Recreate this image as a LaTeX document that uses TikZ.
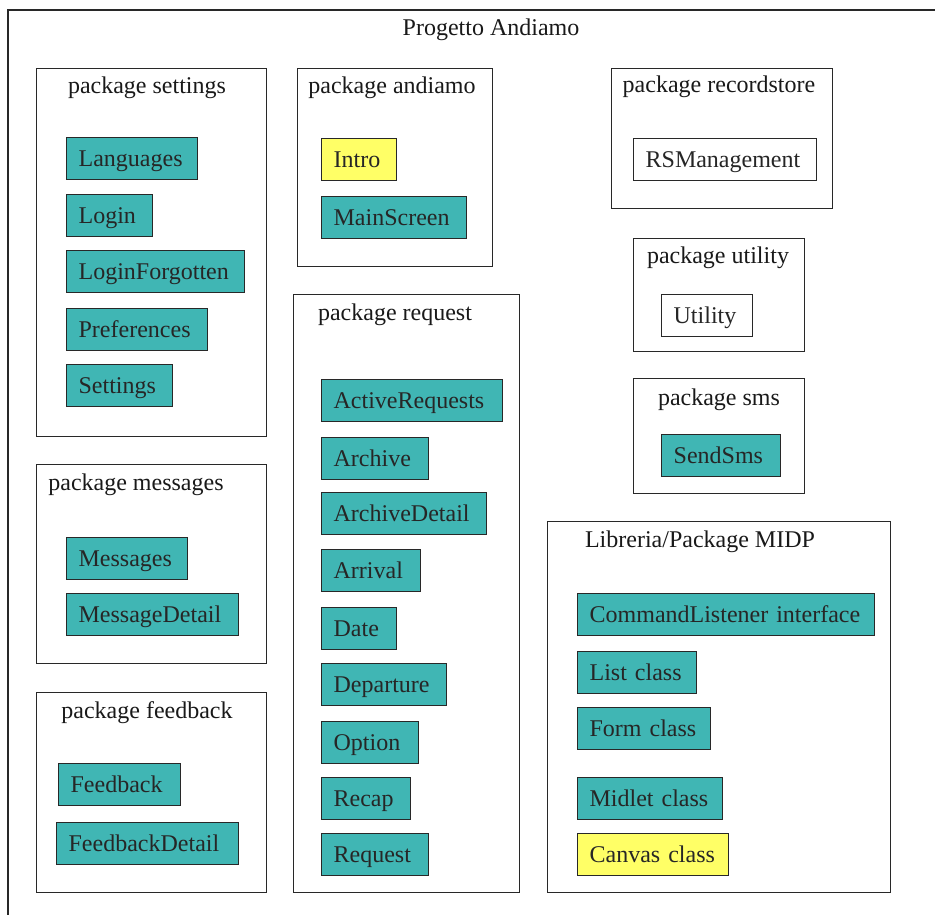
\documentclass[tikz,border=0pt]{standalone}
\usepackage{fontspec}
\setmainfont{Liberation Serif}
\usepackage{xcolor}
\usepackage{tikz}
\definecolor{clsteal}{RGB}{64,182,180}
\definecolor{clsyellow}{RGB}{255,255,102}
\definecolor{frameline}{RGB}{40,40,40}

\begin{document}
\begin{tikzpicture}[x=1pt,y=-1pt,
	font=\fontsize{24}{28}\selectfont,
	pkgbox/.style={draw=frameline,line width=1.4pt,anchor=north west,inner sep=0pt},
	pkgtitle/.style={inner sep=0pt,text=black!90},
	cls/.style={draw=frameline,line width=1.3pt,fill=clsteal,anchor=north west,
		minimum height=42pt,execute at begin node={\rule[-6pt]{0pt}{27pt}},
		inner xsep=12pt,inner ysep=0pt,align=left,text=black!85},
	clsy/.style={cls,fill=clsyellow},
	clsw/.style={cls,fill=white}]
	\useasboundingbox (0,0) rectangle (935,915);
	\fill[white] (0,0) rectangle (935,915);
	
	% cornice esterna
	\coordinate (outerbl) at (8,915);
	\coordinate (outertl) at (8,10);
	\coordinate (outertr) at (935,10);
	\draw[frameline,line width=1.6pt] (outerbl) -- (outertl) -- (outertr);
	\node[pkgtitle] (progetto) at (491,30) {Progetto Andiamo};
	
	% package
	\begin{scope}[every node/.append style={pkgbox}]
		\node[minimum width=230,minimum height=368] (settings) at (36,68) {};
		\node[minimum width=195,minimum height=198] (andiamo) at (297,68) {};
		\node[minimum width=226,minimum height=598] (request) at (293,294) {};
		\node[minimum width=230,minimum height=199] (messages) at (36,464) {};
		\node[minimum width=230,minimum height=200] (feedback) at (36,692) {};
		\node[minimum width=221,minimum height=140] (recordstore) at (611,68) {};
		\node[minimum width=171,minimum height=113] (utility) at (633,238) {};
		\node[minimum width=171,minimum height=115] (sms) at (633,378) {};
		\node[minimum width=343,minimum height=371] (midp) at (547,521) {};
	\end{scope}
	
	\node[pkgtitle] (settingsT) at (147,88) {package settings};
	\node[pkgtitle] (andiamoT) at (392,88) {package andiamo};
	\node[pkgtitle] (requestT) at (395,315) {package request};
	\node[pkgtitle] (messagesT) at (136,485) {package messages};
	\node[pkgtitle] (feedbackT) at (147,713) {package feedback};
	\node[pkgtitle] (recordstoreT) at (719,87) {package recordstore};
	\node[pkgtitle] (utilityT) at (718,258) {package utility};
	\node[pkgtitle] (smsT) at (719,400) {package sms};
	\node[pkgtitle] (midpT) at (700,542) {Libreria/Package MIDP};
	
	% classi
	\node[cls,text width=107] (languages) at (66,137) {Languages};
	\node[cls,text width=62] (login) at (66,194) {Login};
	\node[cls,text width=154] (loginforgotten) at (66,250) {LoginForgotten};
	\node[cls,text width=117] (preferences) at (66,308) {Preferences};
	\node[cls,text width=82] (settingscls) at (66,364) {Settings};
	
	\node[clsy,text width=51] (intro) at (321,138) {Intro};
	\node[cls,text width=121] (mainscreen) at (321,196) {MainScreen};
	
	\node[cls,text width=157] (activerequests) at (321,379) {ActiveRequests};
	\node[cls,text width=83] (archive) at (321,437) {Archive};
	\node[cls,text width=141] (archivedetail) at (321,492) {ArchiveDetail};
	\node[cls,text width=75] (arrival) at (321,549) {Arrival};
	\node[cls,text width=51] (date) at (321,607) {Date};
	\node[cls,text width=101] (departure) at (321,663) {Departure};
	\node[cls,text width=73] (option) at (321,721) {Option};
	\node[cls,text width=65] (recap) at (321,777) {Recap};
	\node[cls,text width=83] (requestcls) at (321,833) {Request};
	
	\node[cls,text width=97] (messagescls) at (66,537) {Messages};
	\node[cls,text width=148] (messagedetail) at (66,593) {MessageDetail};
	
	\node[cls,text width=98] (feedbackcls) at (58,763) {Feedback};
	\node[cls,text width=158] (feedbackdetail) at (56,822) {FeedbackDetail};
	
	\node[clsw,text width=159] (rsmanagement) at (633,138) {RSManagement};
	\node[clsw,text width=67] (utilitycls) at (661,294) {Utility};
	\node[cls,text width=95] (sendsms) at (661,434) {SendSms};
	
	\node[cls,text width=273] (commandlistener) at (577,593) {CommandListener~interface};
	\node[cls,text width=95] (listclass) at (577,651) {List~class};
	\node[cls,text width=109] (formclass) at (577,707) {Form~class};
	\node[cls,text width=121] (midletclass) at (577,777) {Midlet~class};
	\node[clsy,text width=127] (canvasclass) at (577,833) {Canvas~class};
\end{tikzpicture}
\end{document}
